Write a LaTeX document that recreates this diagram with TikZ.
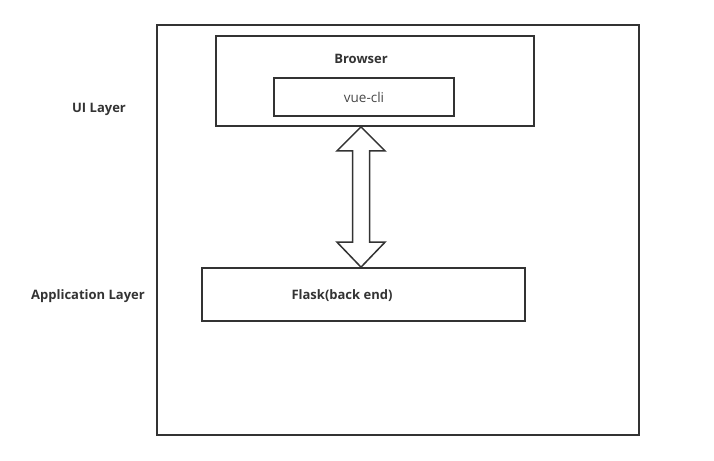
\documentclass[tikz,border=0pt]{standalone}
\usepackage{fontspec}
\setmainfont{Open Sans}
\usetikzlibrary{calc}
\definecolor{ink}{HTML}{333333}
\tikzset{
  layerbox/.style={draw=ink, line width=1.7pt, inner sep=0pt},
  boldlabel/.style={text=ink, font=\fontsize{13}{15}\selectfont\bfseries},
  plainlabel/.style={text=ink!90, font=\fontsize{13.5}{15}\selectfont}
}
\begin{document}
\begin{tikzpicture}[x=1pt, y=-1pt]
    \useasboundingbox (0, 0) rectangle (714, 460);
    % Outer frame
    \node[layerbox, minimum width=482, minimum height=410] (frame) at (398, 230) {};

    % Layer names
    \node[boldlabel] (uilayer) at (99, 109) {UI Layer};
    \node[boldlabel] (applayer) at (88, 296) {Application Layer};

    % Browser with vue-cli inside
    \node[layerbox, minimum width=318, minimum height=90] (browser) at (375, 81) {};
    \node[boldlabel] (browserlabel) at (361, 59) {Browser};
    \node[layerbox, line width=1.5pt, minimum width=180, minimum height=38] (vuecli) at (364, 97) {};
    \node[plainlabel] at (vuecli) {vue-cli};

    % Flask back end
    \node[layerbox, minimum width=323, minimum height=53] (flask) at (363.5, 294.5) {};
    \node[boldlabel] (flasklabel) at (342, 296) {Flask(back end)};

    % Double arrow between browser and flask
    \coordinate (up) at (browserlabel |- browser.south);
    \coordinate (down) at (browserlabel |- flask.north);
    \draw[draw=ink, line width=1.5pt, fill=white, line join=miter]
        (up) -- ($(up)+(24,24)$) -- ($(up)+(8.5,24)$)
        -- ($(down)+(8.5,-25)$) -- ($(down)+(24,-25)$) -- (down)
        -- ($(down)+(-24,-25)$) -- ($(down)+(-8.5,-25)$)
        -- ($(up)+(-8.5,24)$) -- ($(up)+(-24,24)$) -- cycle;
\end{tikzpicture}
\end{document}
